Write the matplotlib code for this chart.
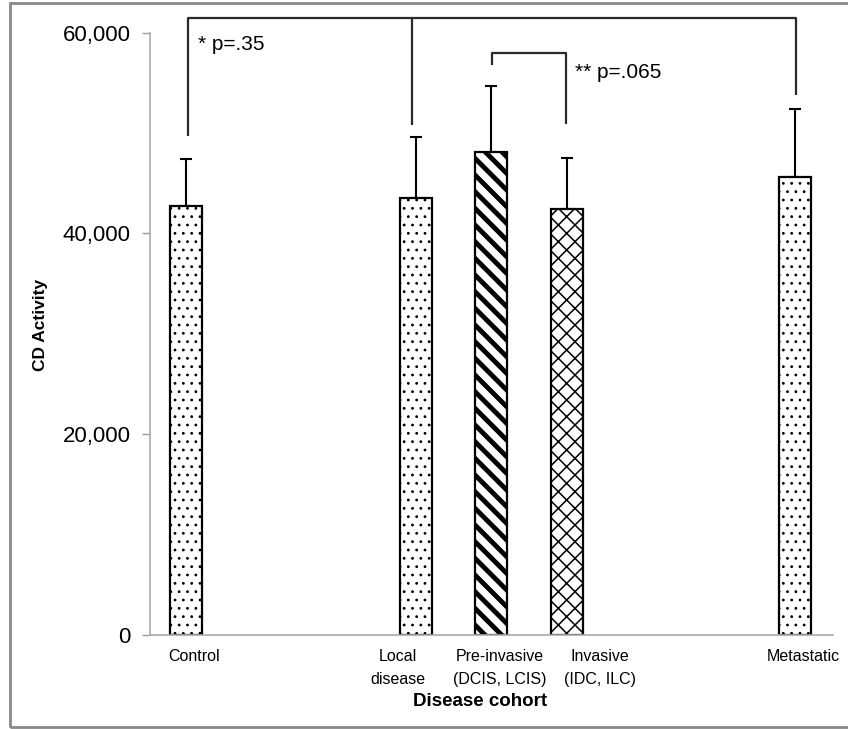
import numpy as np
import matplotlib
matplotlib.use("Agg")
import matplotlib.pyplot as plt
from matplotlib.patches import Rectangle
from matplotlib.ticker import FuncFormatter

# data
cohorts = ["Control", "Local\ndisease", "Pre-invasive\n(DCIS, LCIS)", "Invasive\n(IDC, ILC)", "Metastatic"]
means = [42750, 43550, 48050, 42450, 45650]
errors = [4700, 6000, 6600, 5050, 6700]
hatches = ["..", "..", "\\\\", "xx", ".."]

# layout (x in arbitrary units, 1 unit ~ 10 px)
bar_pos = [3.6, 26.6, 34.1, 41.7, 64.5]
label_pos = [4.4, 24.8, 35.0, 45.0, 65.3]

plt.rcParams['font.family'] = ['Liberation Sans', 'DejaVu Sans']

fig = plt.figure(figsize=(8.48, 7.29), dpi=100)
ax = fig.add_axes([150/848, 1-635/729, 683/848, (635-32.5)/729])

bars = ax.bar(bar_pos, means, width=3.25, color="white", edgecolor="black",
              linewidth=1.6, zorder=2)
for b, h in zip(bars, hatches):
    b.set_hatch(h)
    try:
        if h.startswith("\\"):
            b.set_hatch_linewidth(3.5)
        elif h.startswith("x"):
            b.set_hatch_linewidth(1.1)
        else:
            b.set_hatch_linewidth(0.8)
    except AttributeError:
        pass

ax.errorbar(bar_pos, means, yerr=[np.zeros(len(errors)), errors], fmt="none",
            ecolor="black", elinewidth=1.5, capsize=4, capthick=1.5, zorder=1)

# significance brackets
kw = dict(color="#2a2a2a", lw=1.6, clip_on=False, solid_capstyle="butt")
top = 61400
ax.plot([3.77, 3.77, 64.6, 64.6], [49650, top, top, 53800], **kw)
ax.plot([26.2, 26.2], [top, 50750], **kw)
ax.text(4.8, 58800, "* p=.35", fontsize=15, va="center", ha="left")

stop = 58000
ax.plot([34.2, 34.2, 41.6, 41.6], [56800, stop, stop, 50900], **kw)
ax.text(42.5, 56000, "** p=.065", fontsize=15, va="center", ha="left")

ax.set_xlim(0, 68.3)
ax.set_ylim(0, 60000)
ax.set_yticks([0, 20000, 40000, 60000])
ax.yaxis.set_major_formatter(FuncFormatter(lambda v, p: f"{int(v):,}"))
ax.tick_params(axis="y", labelsize=16, length=6, color="#999999", width=1, pad=8)
ax.set_xticks(label_pos)
ax.set_xticklabels(cohorts, fontsize=11.5, va="top", linespacing=1.65)
ax.tick_params(axis="x", length=0, pad=10)

for s in ["top", "right"]:
    ax.spines[s].set_visible(False)
for s in ["left", "bottom"]:
    ax.spines[s].set_color("#aaaaaa")
    ax.spines[s].set_linewidth(1.2)

ax.set_xlabel("Disease cohort", fontsize=13.5, fontweight="bold")
ax.xaxis.set_label_coords((480-150)/683, -(702-635)/602.5)
ax.xaxis.label.set_va("center")
ax.set_ylabel("CD Activity", fontsize=12.5, fontweight="bold")
ax.yaxis.set_label_coords((40-150)/683, (635-325)/602.5)
ax.yaxis.label.set_va("center")

# outer frame
fig.patches.append(Rectangle((10/848, 2/729), 1.0, 1 - 5/729, transform=fig.transFigure,
                             fill=False, edgecolor="#888888", lw=2))

fig.savefig("out.png", dpi=100)
